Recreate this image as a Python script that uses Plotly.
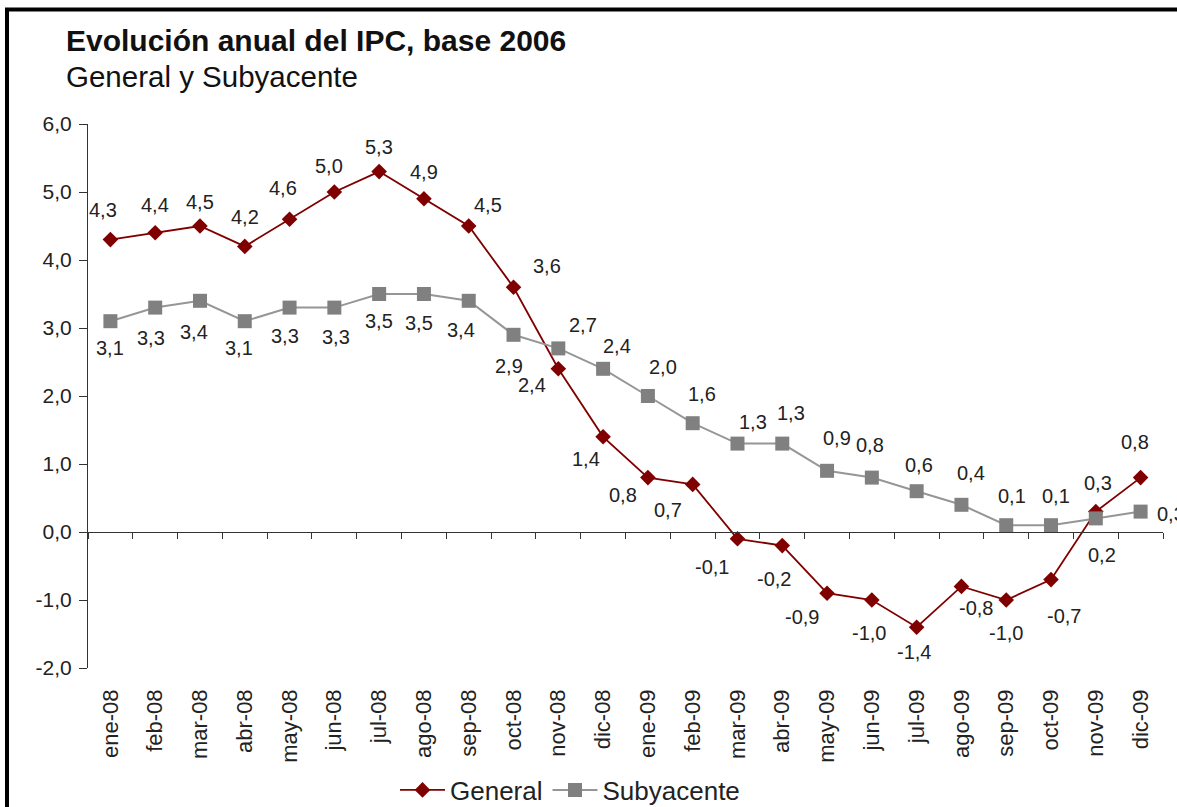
import plotly.graph_objects as go

months = ["ene-08", "feb-08", "mar-08", "abr-08", "may-08", "jun-08", "jul-08", "ago-08",
          "sep-08", "oct-08", "nov-08", "dic-08", "ene-09", "feb-09", "mar-09", "abr-09",
          "may-09", "jun-09", "jul-09", "ago-09", "sep-09", "oct-09", "nov-09", "dic-09"]
general = [4.3, 4.4, 4.5, 4.2, 4.6, 5.0, 5.3, 4.9, 4.5, 3.6, 2.4, 1.4,
           0.8, 0.7, -0.1, -0.2, -0.9, -1.0, -1.4, -0.8, -1.0, -0.7, 0.3, 0.8]
subyacente = [3.1, 3.3, 3.4, 3.1, 3.3, 3.3, 3.5, 3.5, 3.4, 2.9, 2.7, 2.4,
              2.0, 1.6, 1.3, 1.3, 0.9, 0.8, 0.6, 0.4, 0.1, 0.1, 0.2, 0.3]
y_ticks = [-2, -1, 0, 1, 2, 3, 4, 5, 6]

# label offsets (pixels) for the data labels
gen_dx = [-7, 0, 0, 0, -7, -5, 0, 0, 19, 33, -26, -17, -25, -25, -25, -8, -25, -3, -3, 15, 0, 13, 2, -6]
gen_dy = [30, 28, 24, 29, 31, 26, 25, 27, 21, 21, -16, -22, -17, -26, -28, -33, -24, -33, -25, -22, -33, -36, 29, 36]
sub_dx = [0, -4, -6, -6, -5, 2, 0, -5, -8, -5, 25, 14, 15, 9, 16, 9, 10, -2, 2, 10, 6, 5, 6, 30]
sub_dy = [-27, -30, -31, -27, -28, -29, -27, -29, -29, -31, 23, 23, 29, 29, 22, 31, 33, 33, 26, 32, 29, 29, -37, -2]

FONT = "Liberation Sans, Arial, sans-serif"
RED = "#800000"
GRAY = "#808080"
W, H = 1177, 807
L, R, T, B = 88, 14, 124, 139
PW, PH = W - L - R, H - T - B


def px_x(px):
    return (px - L) / PW


def px_y(py):
    return (H - B - py) / PH


def fmt(v):
    return f"{v:.1f}".replace(".", ",")


xs = list(range(len(months)))

fig = go.Figure()
fig.add_trace(go.Scatter(
    x=xs, y=general, name="General", mode="lines+markers",
    line=dict(color=RED, width=1.8),
    marker=dict(symbol="diamond", size=12, color=RED),
))
fig.add_trace(go.Scatter(
    x=xs, y=subyacente, name="Subyacente", mode="lines+markers",
    line=dict(color="#969696", width=2),
    marker=dict(symbol="square", size=14, color=GRAY),
))
fig.add_trace(go.Scatter(
    x=[0], y=[0], xaxis="x2", mode="markers", marker=dict(opacity=0),
    showlegend=False, hoverinfo="skip",
))

annotations = []
for i, v in enumerate(general):
    annotations.append(dict(
        x=xs[i], y=v, xref="x", yref="y", text=fmt(v),
        showarrow=False, xshift=gen_dx[i], yshift=gen_dy[i],
        font=dict(family=FONT, size=20, color="#222222"),
    ))
for i, v in enumerate(subyacente):
    annotations.append(dict(
        x=xs[i], y=v, xref="x", yref="y", text=fmt(v),
        showarrow=False, xshift=sub_dx[i], yshift=sub_dy[i],
        font=dict(family=FONT, size=20, color="#222222"),
    ))

annotations.append(dict(
    x=px_x(64), y=px_y(40), xref="paper", yref="paper", xanchor="left", yanchor="middle",
    text="<b>Evolución anual del IPC, base 2006</b>", showarrow=False,
    font=dict(family=FONT, size=30, color="#111111"),
))
annotations.append(dict(
    x=px_x(64), y=px_y(77), xref="paper", yref="paper", xanchor="left", yanchor="middle",
    text="General y Subyacente", showarrow=False,
    font=dict(family=FONT, size=29.5, color="#111111"),
))

shapes = [
    dict(type="line", xref="paper", yref="paper", x0=px_x(7), x1=px_x(7), y0=px_y(8), y1=px_y(810),
         line=dict(color="black", width=4)),
    dict(type="line", xref="paper", yref="paper", x0=px_x(5), x1=px_x(1180), y0=px_y(9.5), y1=px_y(9.5),
         line=dict(color="black", width=4)),
]

n = len(months)
fig.update_layout(
    width=W, height=H,
    margin=dict(l=L, r=R, t=T, b=B, autoexpand=False),
    paper_bgcolor="white", plot_bgcolor="white",
    showlegend=True,
    legend=dict(orientation="h", x=px_x(570), y=px_y(790), xanchor="center", yanchor="middle",
                font=dict(family=FONT, size=26, color="#222222"), itemwidth=45,
                bgcolor="rgba(0,0,0,0)"),
    xaxis=dict(
        range=[-0.5, n - 0.5], tickmode="array", tickvals=xs, ticktext=months,
        tickangle=-90, ticks="", showline=False, showgrid=False, zeroline=False,
        automargin=False,
        tickfont=dict(family=FONT, size=22, color="#222222"), ticklabelstandoff=16,
    ),
    xaxis2=dict(
        range=[-0.5, n - 0.5], overlaying="x", anchor="free", position=2 / 8, side="bottom",
        tickmode="array", tickvals=[i - 0.5 for i in range(n + 1)], ticks="outside", ticklen=6,
        tickcolor="#333333", showline=True, linecolor="#333333", linewidth=1,
        showticklabels=False, showgrid=False, zeroline=False,
    ),
    yaxis=dict(
        range=[-2, 6], tickmode="array", tickvals=y_ticks, ticktext=[fmt(v) for v in y_ticks],
        ticks="outside", ticklen=8, tickcolor="#333333", showline=True, linecolor="#333333",
        linewidth=1, showgrid=False, zeroline=False, automargin=False,
        tickfont=dict(family=FONT, size=21, color="#222222"), ticklabelstandoff=3,
    ),
    annotations=annotations,
    shapes=shapes,
)

fig.write_html("out.html", config={"displayModeBar": False},
               post_script="document.body.style.margin='0';")
